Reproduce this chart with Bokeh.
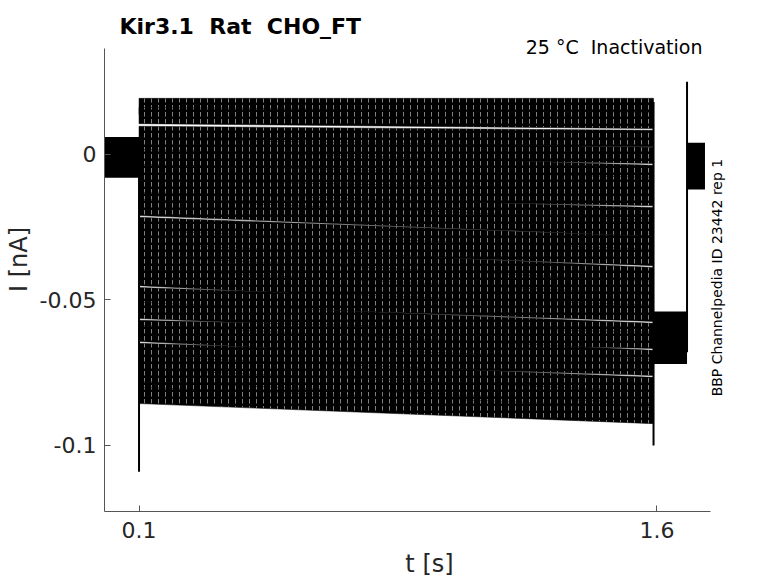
import numpy as np
from bokeh.plotting import figure
from bokeh.models import Range1d, FixedTicker, Label
from bokeh.embed import file_html
from bokeh.resources import INLINE

# ---- data ----
step_t = [0.1, 1.59]          # start / end of the test step [s]
# mean current of each sweep at step start and step end [nA]
trace_start = [0.0165, 0.0134, 0.0069, 0.0024, -0.0010, -0.0062, -0.0117, -0.0158,
               -0.0182, -0.0244, -0.0289, -0.0333, -0.0378, -0.0423, -0.0485, -0.0536,
               -0.0598, -0.0615, -0.0677, -0.0722, -0.0766, -0.0808, -0.0828]
trace_end = [0.0165, 0.0117, 0.0055, -0.0003, -0.0065, -0.0107, -0.0148, -0.0210,
             -0.0254, -0.0309, -0.0354, -0.0416, -0.0464, -0.0509, -0.0546, -0.0608,
             -0.0639, -0.0701, -0.0732, -0.0794, -0.0842, -0.0883, -0.0897]
noise_half = 0.0028           # half range of the noise on each sweep [nA]

pre_t = [0.0, 0.1]            # holding before the step
pre_range = [-0.008, 0.006]
post_t = [1.59, 1.687]        # after the step
post_range = [-0.072, -0.054]
tail_t = [1.687, 1.739]       # back to holding
tail_range = [-0.012, 0.004]

spike_t = [0.1, 1.59, 1.687]  # capacitive transients
spike_lo = [-0.109, -0.100, -0.068]
spike_hi = [0.005, 0.018, 0.025]

x_ticks = [0.1, 1.6]
x_tick_labels = ["0.1", "1.6"]
y_ticks = [-0.1, -0.05, 0.0]
y_tick_labels = ["-0.1", "-0.05", "0"]
x_axis_limits = (0.0, 1.755)
y_axis_limits = (-0.1227, 0.0365)

FONT = "DejaVu Sans"
TXT = "#262626"

p = figure(frame_width=650, frame_height=504, output_backend="svg", toolbar_location=None,
           x_range=Range1d(0.0, 1.8824), y_range=Range1d(y_axis_limits[0], 0.05052),
           min_border=0, min_border_left=104, min_border_right=0, min_border_top=7,
           min_border_bottom=0)
p.title.visible = False
p.background_fill_color = "white"
p.border_fill_color = "white"
p.outline_line_color = None
p.grid.visible = False

# sweeps during the step
xs, ys = [], []
for s, e in zip(trace_start, trace_end):
    xs.append([step_t[0], step_t[1], step_t[1], step_t[0]])
    ys.append([s - noise_half, e - noise_half, e + noise_half, s + noise_half])
p.patches(xs, ys, fill_color="black", line_color="black", line_width=0.5,
          hatch_pattern="vertical_dash", hatch_color="white", hatch_alpha=0.5,
          hatch_scale=7, hatch_weight=1)

for seg_t, rng in [(pre_t, pre_range), (post_t, post_range), (tail_t, tail_range)]:
    p.varea(x=seg_t, y1=[rng[0], rng[0]], y2=[rng[1], rng[1]], fill_color="black")

p.segment(x0=spike_t, y0=spike_lo, x1=spike_t, y1=spike_hi,
          line_color="black", line_width=2)

# axes
for ax, ticks, labels, bounds in [(p.xaxis[0], x_ticks, x_tick_labels, x_axis_limits),
                                  (p.yaxis[0], y_ticks, y_tick_labels, y_axis_limits)]:
    ax.bounds = bounds
    ax.ticker = FixedTicker(ticks=ticks)
    ax.major_label_overrides = {t: l for t, l in zip(ticks, labels)}
    ax.minor_tick_line_color = None
    ax.major_tick_in = 6
    ax.major_tick_out = 0
    ax.axis_line_color = "#555555"
    ax.major_tick_line_color = "#555555"
    ax.major_label_text_font = FONT
    ax.major_label_text_color = TXT
    ax.major_label_text_font_size = "22px"
    ax.axis_label_text_font = FONT
    ax.axis_label_text_font_size = "24px"
    ax.axis_label_text_font_style = "normal"
    ax.axis_label_text_color = TXT

p.xaxis.axis_label = "t [s]"
p.yaxis.axis_label = "I [nA]"
p.xaxis.major_label_standoff = 10
p.xaxis.axis_label_standoff = 9
p.yaxis.major_label_standoff = 8
p.yaxis.axis_label_standoff = 4

p.add_layout(Label(x=0.0434, y=0.0440, text="Kir3.1 \u00a0Rat \u00a0CHO_FT",
                   text_align="left", text_baseline="alphabetic", text_font=FONT,
                   text_font_size="22px", text_font_style="bold", text_color="black"))
p.add_layout(Label(x=1.7318, y=0.0371, text="25 °C \u00a0Inactivation", text_align="right",
                   text_baseline="alphabetic", text_font=FONT, text_font_size="19px",
                   text_color="black"))
p.add_layout(Label(x=1.7724, y=-0.0423, text="BBP Channelpedia ID 23442 rep 1",
                   angle=np.pi / 2, text_align="center", text_baseline="middle",
                   text_font=FONT, text_font_size="14px", text_color="black"))

open("out.html", "w").write(file_html(p, INLINE))
